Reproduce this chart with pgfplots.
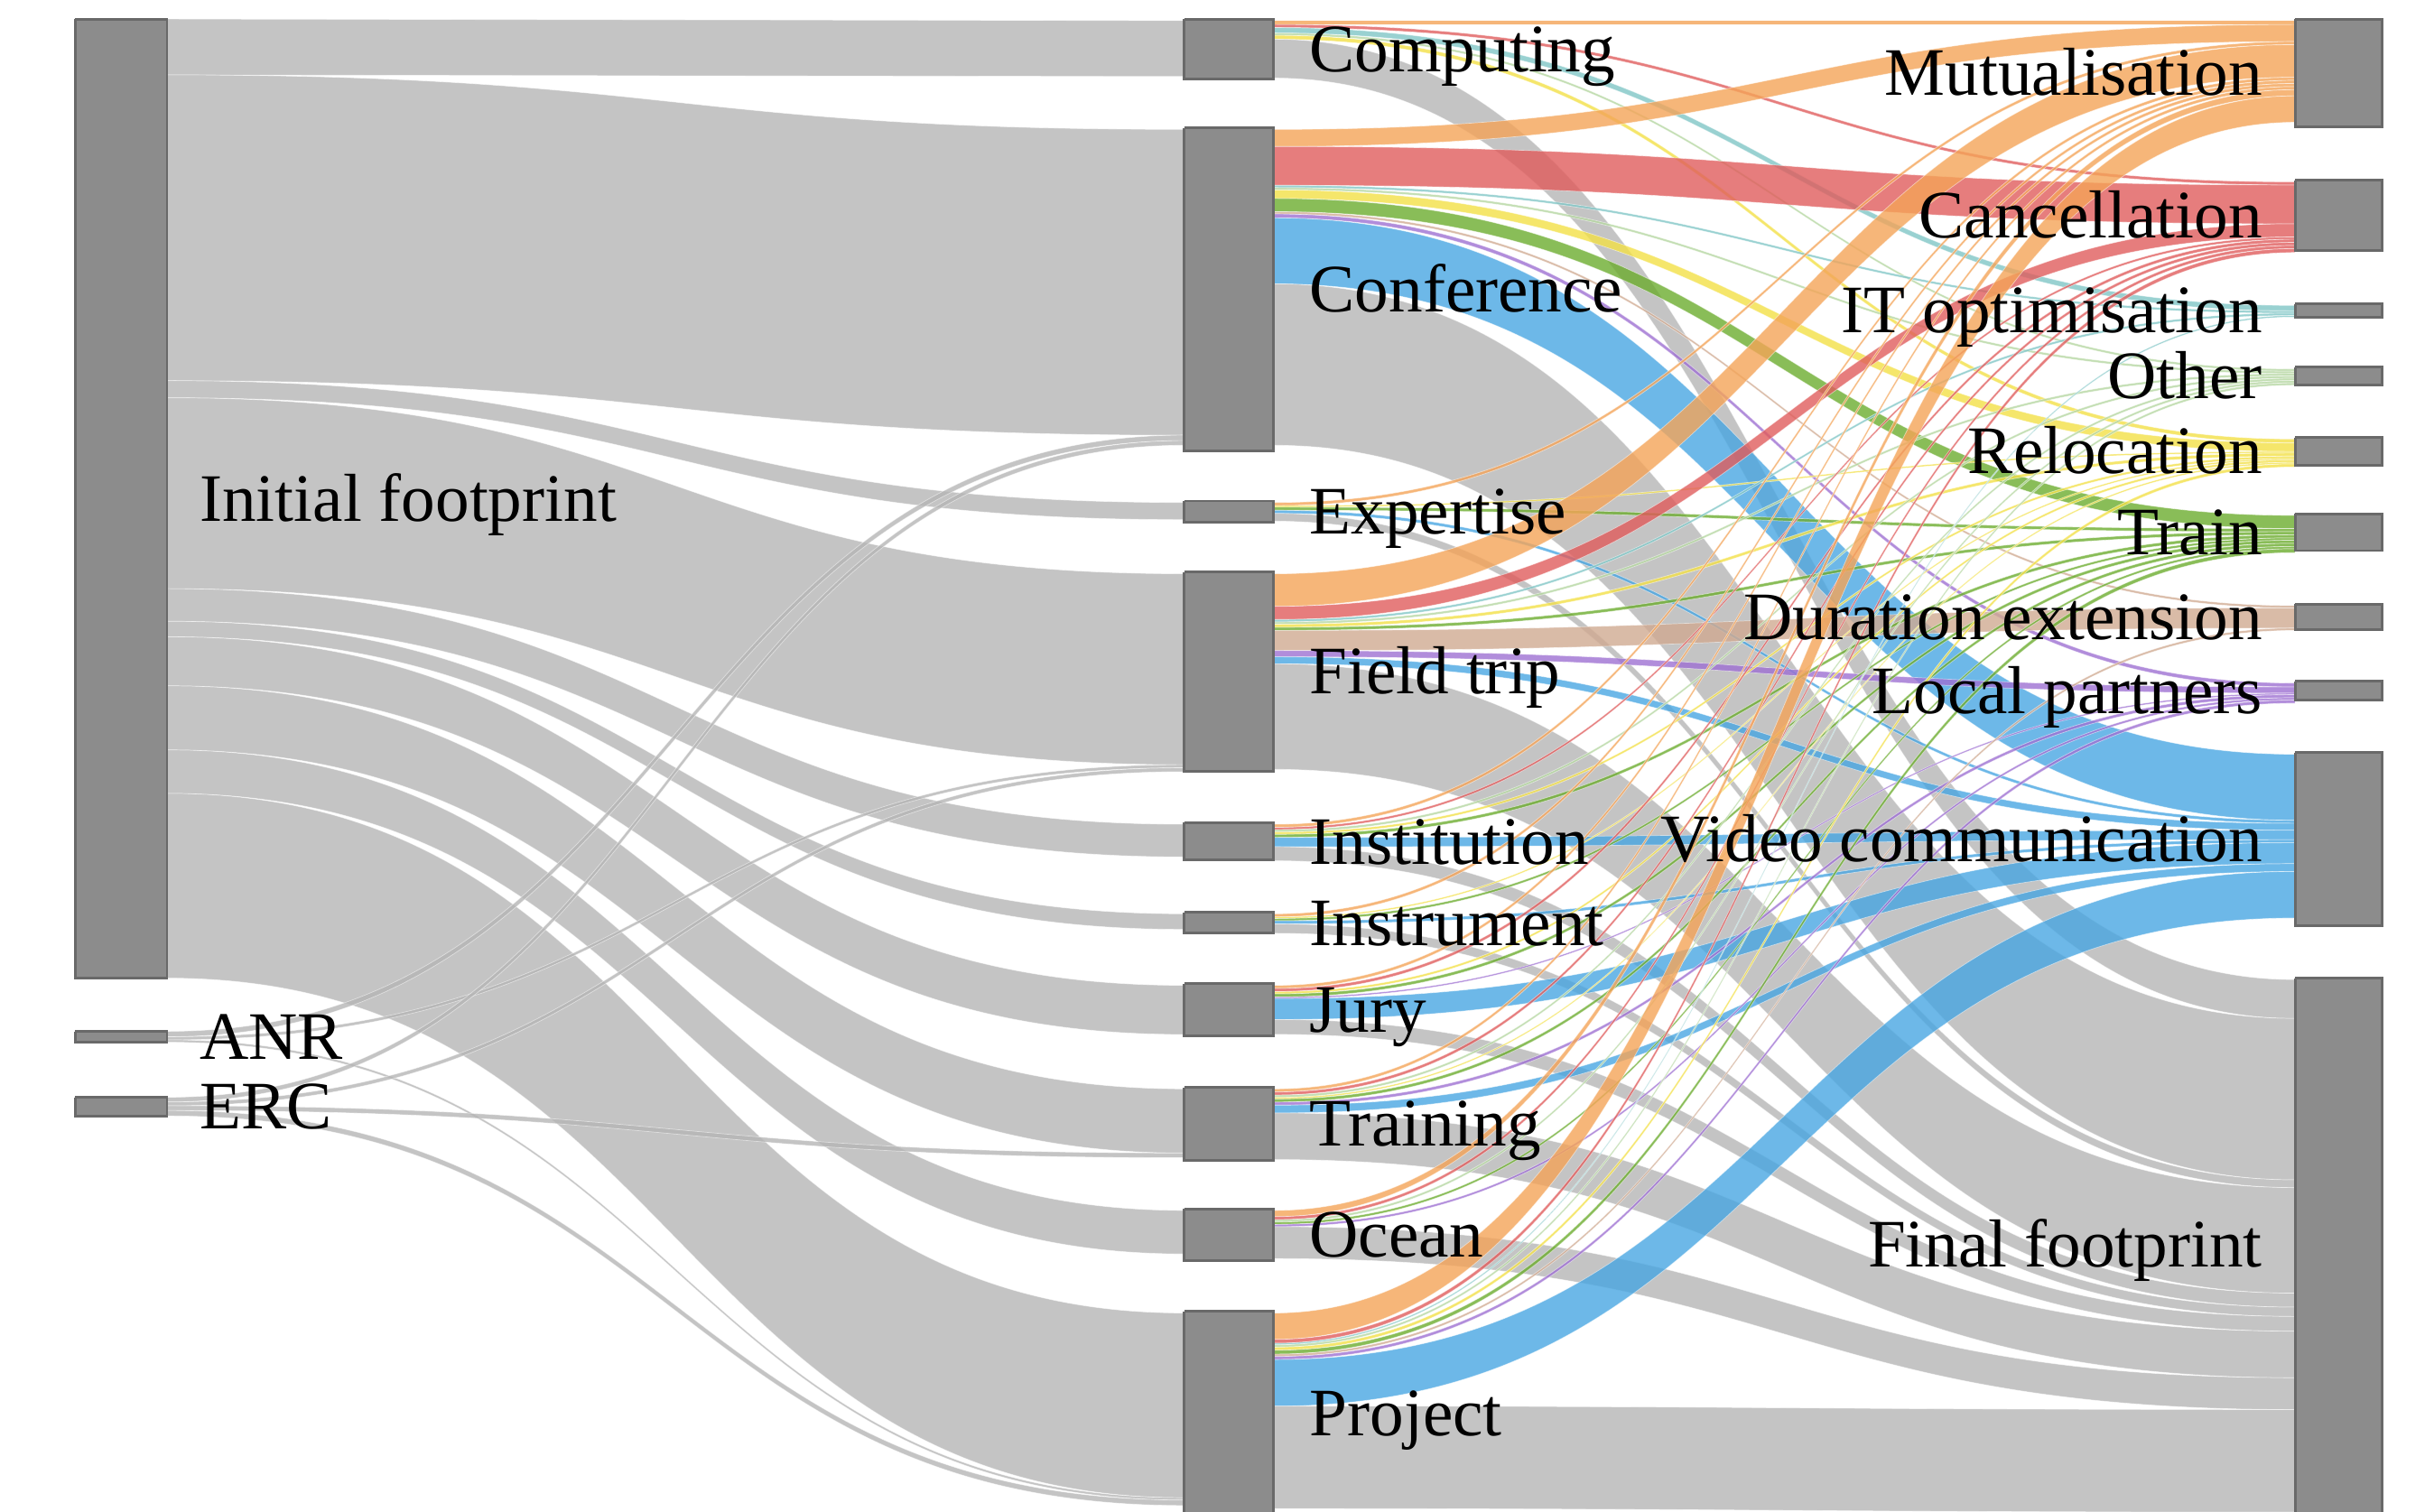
\documentclass[border=0pt]{standalone}
\usepackage{pgfplots}
\pgfplotsset{compat=1.18}
\usepackage{fontspec}
\setmainfont{Liberation Serif}

\definecolor{cMut}{RGB}{244,164,88}
\definecolor{cCan}{RGB}{224,92,92}
\definecolor{cIT}{RGB}{128,198,198}
\definecolor{cOth}{RGB}{180,214,160}
\definecolor{cRel}{RGB}{243,224,70}
\definecolor{cTra}{RGB}{108,172,46}
\definecolor{cDur}{RGB}{208,170,145}
\definecolor{cLoc}{RGB}{158,112,210}
\definecolor{cVid}{RGB}{72,166,226}
\definecolor{cFin}{RGB}{181,181,181}
\definecolor{nodefill}{RGB}{140,140,140}
\definecolor{nodeline}{RGB}{105,105,105}

\tikzset{band/.style={fill opacity=0.8,draw=white,draw opacity=0.5,line width=0.12pt},
  lab/.style={font=\fontsize{12.7}{14}\selectfont,inner sep=0pt,text=black}}

\makeatletter
% name, x left, x right, y top, y bottom, padding, colour of links into it
\newcommand\defnode[7]{%
  \expandafter\xdef\csname sk@xl@#1\endcsname{#2}%
  \expandafter\xdef\csname sk@xr@#1\endcsname{#3}%
  \pgfmathsetmacro\sk@t{#4+#6}%
  \expandafter\xdef\csname sk@out@#1\endcsname{\sk@t}%
  \expandafter\xdef\csname sk@in@#1\endcsname{\sk@t}%
  \expandafter\xdef\csname sk@col@#1\endcsname{#7}%
}
\gdef\allbands{}
% source, target, value
\newcommand\flow[3]{%
  \edef\sk@ya{\csname sk@out@#1\endcsname}%
  \pgfmathsetmacro\sk@yb{\sk@ya+#3}%
  \expandafter\xdef\csname sk@out@#1\endcsname{\sk@yb}%
  \edef\sk@yc{\csname sk@in@#2\endcsname}%
  \pgfmathsetmacro\sk@yd{\sk@yc+#3}%
  \expandafter\xdef\csname sk@in@#2\endcsname{\sk@yd}%
  \edef\sk@xa{\csname sk@xr@#1\endcsname}%
  \edef\sk@xb{\csname sk@xl@#2\endcsname}%
  \pgfmathsetmacro\sk@xm{(\sk@xa+\sk@xb)/2}%
  \edef\sk@col{\csname sk@col@#2\endcsname}%
  \xdef\allbands{\unexpanded\expandafter{\allbands}%
    \noexpand\fill[band,fill=\sk@col] (axis cs:\sk@xa,\sk@ya) .. controls (axis cs:\sk@xm,\sk@ya) and (axis cs:\sk@xm,\sk@yc) .. (axis cs:\sk@xb,\sk@yc) -- (axis cs:\sk@xb,\sk@yd) .. controls (axis cs:\sk@xm,\sk@yd) and (axis cs:\sk@xm,\sk@yb) .. (axis cs:\sk@xa,\sk@yb) -- cycle;}%
}
\makeatother

% ---- nodes ----
\defnode{init}{48.4}{107.6}{12.3}{630.2}{0}{cFin}
\defnode{anr}{48.4}{107.6}{664.5}{671.5}{0}{cFin}
\defnode{erc}{48.4}{107.6}{707}{719}{0}{cFin}
\defnode{comp}{762.8}{820.6}{12.3}{51}{1}{cFin}
\defnode{conf}{762.8}{820.6}{82.4}{290.5}{1}{cFin}
\defnode{expe}{762.8}{820.6}{322.8}{336.5}{1}{cFin}
\defnode{fiel}{762.8}{820.6}{368.7}{496.8}{1}{cFin}
\defnode{inst}{762.8}{820.6}{530.1}{554.2}{1}{cFin}
\defnode{instr}{762.8}{820.6}{587.8}{601.2}{1}{cFin}
\defnode{jury}{762.8}{820.6}{633.9}{667.5}{1}{cFin}
\defnode{trai}{762.8}{820.6}{700.6}{747.5}{1}{cFin}
\defnode{ocea}{762.8}{820.6}{778.9}{812.2}{1}{cFin}
\defnode{proj}{762.8}{820.6}{845}{990}{1}{cFin}
\defnode{mut}{1478.5}{1534.8}{12.3}{81.8}{1}{cMut}
\defnode{can}{1478.5}{1534.8}{116.2}{161.4}{1}{cCan}
\defnode{it}{1478.5}{1534.8}{195.8}{204.4}{1}{cIT}
\defnode{oth}{1478.5}{1534.8}{236.7}{247.9}{1}{cOth}
\defnode{rel}{1478.5}{1534.8}{281.9}{299.6}{1}{cRel}
\defnode{tra}{1478.5}{1534.8}{331.1}{354.8}{1}{cTra}
\defnode{dur}{1478.5}{1534.8}{389.2}{405.8}{1}{cDur}
\defnode{loc}{1478.5}{1534.8}{439.1}{451.2}{1}{cLoc}
\defnode{vid}{1478.5}{1534.8}{485}{596.4}{1}{cVid}
\defnode{fin}{1478.5}{1534.8}{630.2}{990}{1}{cFin}

% ---- links: funding -> category ----
\flow{init}{comp}{36}
\flow{init}{conf}{197}
\flow{init}{expe}{11}
\flow{init}{fiel}{123}
\flow{init}{inst}{21}
\flow{init}{instr}{10}
\flow{init}{jury}{31.6}
\flow{init}{trai}{41.3}
\flow{init}{ocea}{28}
\flow{init}{proj}{119}
\flow{anr}{conf}{3.5}
\flow{anr}{fiel}{2}
\flow{anr}{proj}{1.5}
\flow{erc}{conf}{3}
\flow{erc}{fiel}{2.5}
\flow{erc}{trai}{3}
\flow{erc}{proj}{3.5}
% ---- links: category -> action ----
\flow{comp}{mut}{2.5}
\flow{comp}{can}{2}
\flow{comp}{it}{3.5}
\flow{comp}{oth}{1.5}
\flow{comp}{rel}{2.5}
\flow{comp}{fin}{25}
\flow{conf}{mut}{11}
\flow{conf}{can}{25}
\flow{conf}{it}{1.5}
\flow{conf}{oth}{1.5}
\flow{conf}{rel}{5.5}
\flow{conf}{tra}{8.5}
\flow{conf}{dur}{1.5}
\flow{conf}{loc}{2.5}
\flow{conf}{vid}{42.5}
\flow{conf}{fin}{104}
\flow{expe}{mut}{2}
\flow{expe}{rel}{1}
\flow{expe}{tra}{2}
\flow{expe}{vid}{2}
\flow{expe}{fin}{5}
\flow{fiel}{mut}{21}
\flow{fiel}{can}{8.5}
\flow{fiel}{it}{1.5}
\flow{fiel}{oth}{1.5}
\flow{fiel}{rel}{2}
\flow{fiel}{tra}{2}
\flow{fiel}{dur}{13}
\flow{fiel}{loc}{4}
\flow{fiel}{vid}{4.5}
\flow{fiel}{fin}{68}
\flow{inst}{mut}{2}
\flow{inst}{can}{1.5}
\flow{inst}{oth}{1.5}
\flow{inst}{rel}{1.5}
\flow{inst}{tra}{2}
\flow{inst}{vid}{6}
\flow{inst}{fin}{9}
\flow{instr}{mut}{2}
\flow{instr}{rel}{1}
\flow{instr}{tra}{1.5}
\flow{instr}{vid}{2}
\flow{instr}{fin}{6}
\flow{jury}{mut}{2}
\flow{jury}{can}{2}
\flow{jury}{rel}{1.5}
\flow{jury}{tra}{2}
\flow{jury}{loc}{1}
\flow{jury}{vid}{13.5}
\flow{jury}{fin}{9.5}
\flow{trai}{mut}{2}
\flow{trai}{can}{2}
\flow{trai}{oth}{1.5}
\flow{trai}{rel}{1}
\flow{trai}{tra}{2}
\flow{trai}{loc}{2}
\flow{trai}{vid}{5}
\flow{trai}{fin}{30}
\flow{ocea}{mut}{4}
\flow{ocea}{can}{2}
\flow{ocea}{oth}{1.5}
\flow{ocea}{tra}{1.5}
\flow{ocea}{loc}{1.5}
\flow{ocea}{fin}{20.5}
\flow{proj}{mut}{17}
\flow{proj}{can}{2.5}
\flow{proj}{it}{1}
\flow{proj}{oth}{1.5}
\flow{proj}{rel}{2}
\flow{proj}{tra}{2.5}
\flow{proj}{dur}{1.5}
\flow{proj}{loc}{2}
\flow{proj}{vid}{30}
\flow{proj}{fin}{66}

\begin{document}
\begin{tikzpicture}
\begin{axis}[
  width=16cm, height=9.9388cm, scale only axis,
  xmin=0, xmax=1568, ymin=0, ymax=974, y dir=reverse,
  hide axis, clip=true,
  nodebox/.style={fill=nodefill, draw=nodeline, line width=0.5pt},
]
\allbands
% node boxes
\addplot[nodebox] coordinates {(48.4,12.3) (107.6,12.3) (107.6,630.2) (48.4,630.2) (48.4,12.3)};
\addplot[nodebox] coordinates {(48.4,664.5) (107.6,664.5) (107.6,671.5) (48.4,671.5) (48.4,664.5)};
\addplot[nodebox] coordinates {(48.4,707) (107.6,707) (107.6,719) (48.4,719) (48.4,707)};
\addplot[nodebox] coordinates {(762.8,12.3) (820.6,12.3) (820.6,51) (762.8,51) (762.8,12.3)};
\addplot[nodebox] coordinates {(762.8,82.4) (820.6,82.4) (820.6,290.5) (762.8,290.5) (762.8,82.4)};
\addplot[nodebox] coordinates {(762.8,322.8) (820.6,322.8) (820.6,336.5) (762.8,336.5) (762.8,322.8)};
\addplot[nodebox] coordinates {(762.8,368.7) (820.6,368.7) (820.6,496.8) (762.8,496.8) (762.8,368.7)};
\addplot[nodebox] coordinates {(762.8,530.1) (820.6,530.1) (820.6,554.2) (762.8,554.2) (762.8,530.1)};
\addplot[nodebox] coordinates {(762.8,587.8) (820.6,587.8) (820.6,601.2) (762.8,601.2) (762.8,587.8)};
\addplot[nodebox] coordinates {(762.8,633.9) (820.6,633.9) (820.6,667.5) (762.8,667.5) (762.8,633.9)};
\addplot[nodebox] coordinates {(762.8,700.6) (820.6,700.6) (820.6,747.5) (762.8,747.5) (762.8,700.6)};
\addplot[nodebox] coordinates {(762.8,778.9) (820.6,778.9) (820.6,812.2) (762.8,812.2) (762.8,778.9)};
\addplot[nodebox] coordinates {(762.8,845) (820.6,845) (820.6,990) (762.8,990) (762.8,845)};
\addplot[nodebox] coordinates {(1478.5,12.3) (1534.8,12.3) (1534.8,81.8) (1478.5,81.8) (1478.5,12.3)};
\addplot[nodebox] coordinates {(1478.5,116.2) (1534.8,116.2) (1534.8,161.4) (1478.5,161.4) (1478.5,116.2)};
\addplot[nodebox] coordinates {(1478.5,195.8) (1534.8,195.8) (1534.8,204.4) (1478.5,204.4) (1478.5,195.8)};
\addplot[nodebox] coordinates {(1478.5,236.7) (1534.8,236.7) (1534.8,247.9) (1478.5,247.9) (1478.5,236.7)};
\addplot[nodebox] coordinates {(1478.5,281.9) (1534.8,281.9) (1534.8,299.6) (1478.5,299.6) (1478.5,281.9)};
\addplot[nodebox] coordinates {(1478.5,331.1) (1534.8,331.1) (1534.8,354.8) (1478.5,354.8) (1478.5,331.1)};
\addplot[nodebox] coordinates {(1478.5,389.2) (1534.8,389.2) (1534.8,405.8) (1478.5,405.8) (1478.5,389.2)};
\addplot[nodebox] coordinates {(1478.5,439.1) (1534.8,439.1) (1534.8,451.2) (1478.5,451.2) (1478.5,439.1)};
\addplot[nodebox] coordinates {(1478.5,485) (1534.8,485) (1534.8,596.4) (1478.5,596.4) (1478.5,485)};
\addplot[nodebox] coordinates {(1478.5,630.2) (1534.8,630.2) (1534.8,990) (1478.5,990) (1478.5,630.2)};
% labels
\node[lab,anchor=base west] at (axis cs:128,336) {Initial footprint};
\node[lab,anchor=base west] at (axis cs:128,682.5) {ANR};
\node[lab,anchor=base west] at (axis cs:128,727.5) {ERC};
\node[lab,anchor=base west] at (axis cs:843,46.1) {Computing};
\node[lab,anchor=base west] at (axis cs:843,201) {Conference};
\node[lab,anchor=base west] at (axis cs:843,344) {Expertise};
\node[lab,anchor=base west] at (axis cs:843,447) {Field trip};
\node[lab,anchor=base west] at (axis cs:843,556.7) {Institution};
\node[lab,anchor=base west] at (axis cs:843,609) {Instrument};
\node[lab,anchor=base west] at (axis cs:843,665.2) {Jury};
\node[lab,anchor=base west] at (axis cs:843,738.5) {Training};
\node[lab,anchor=base west] at (axis cs:843,810) {Ocean};
\node[lab,anchor=base west] at (axis cs:843,925) {Project};
\node[lab,anchor=base east] at (axis cs:1458,61.5) {Mutualisation};
\node[lab,anchor=base east] at (axis cs:1458,153.3) {Cancellation};
\node[lab,anchor=base east] at (axis cs:1458,214.6) {IT optimisation};
\node[lab,anchor=base east] at (axis cs:1458,256.8) {Other};
\node[lab,anchor=base east] at (axis cs:1458,305.2) {Relocation};
\node[lab,anchor=base east] at (axis cs:1458,357.5) {Train};
\node[lab,anchor=base east] at (axis cs:1458,412) {Duration extension};
\node[lab,anchor=base east] at (axis cs:1458,459.6) {Local partners};
\node[lab,anchor=base east] at (axis cs:1458,555.2) {Video communication};
\node[lab,anchor=base east] at (axis cs:1458,816.5) {Final footprint};
\end{axis}
\pgfresetboundingbox
\path (current axis.south west) rectangle (current axis.north east);
\end{tikzpicture}
\end{document}
